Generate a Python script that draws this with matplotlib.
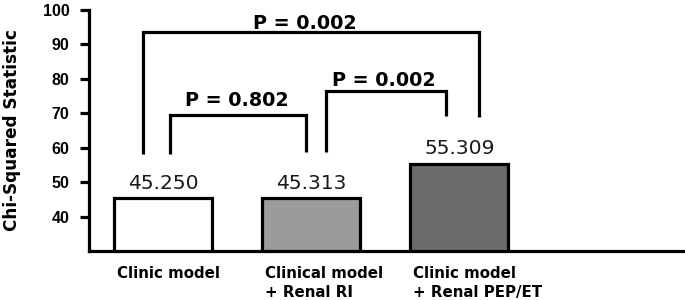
import numpy as np
import matplotlib
matplotlib.use("Agg")
import matplotlib.pyplot as plt

# data
categories = ["Clinic model", "Clinical model\n+ Renal RI", "Clinic model\n+ Renal PEP/ET"]
chi_squared = [45.250, 45.313, 55.309]
value_labels = ["45.250", "45.313", "55.309"]
bar_colors = ["white", "#9b9b9b", "#6a6a6a"]
p_labels = ["P = 0.802", "P = 0.002", "P = 0.002"]
y_ticks = [40, 50, 60, 70, 80, 90, 100]

# bracket layout: (left x, right x, top y, left leg bottom, right leg bottom, text x, text y)
brackets = [
    (0.047, 0.964, 69.4, 58.1, 58.7, 0.50, 72.0),
    (1.100, 1.910, 76.6, 58.7, 69.1, 1.49, 77.9),
    (-0.135, 2.130, 93.6, 58.1, 68.8, 0.96, 94.5),
]

lw = 2.3
fig = plt.figure(figsize=(6.85, 3.0), dpi=100)
ax = fig.add_axes([89 / 685, 49 / 300, 594 / 685, 241 / 300])

x = np.arange(len(categories))
w = 0.66
ax.bar(x, chi_squared, width=w, color=bar_colors, edgecolor="black", linewidth=lw)

for xi, v, lab in zip(x, chi_squared, value_labels):
    ax.annotate(lab, (xi, v), xytext=(0, 7), textcoords="offset points",
                ha="center", va="baseline", fontsize=14.6, color="#1a1a1a")

for (x1, x2, top, lb, rb, tx, ty), p in zip(brackets, p_labels):
    ax.plot([x1, x1, x2, x2], [lb, top, top, rb], color="black", lw=lw,
            clip_on=False, solid_capstyle="butt", solid_joinstyle="miter")
    ax.text(tx, ty, p, ha="center", va="baseline", fontsize=13.8,
            fontweight="bold", clip_on=False)

ax.set_xlim(-0.5, 3.51)
ax.set_ylim(30, 100)
ax.set_yticks(y_ticks)
ax.set_yticklabels([str(t) for t in y_ticks], fontsize=11.5, fontweight="bold",
                   family="Liberation Sans")
ax.tick_params(axis="y", length=6.5, width=lw, pad=7.5)

ax.set_xticks(x - w / 2 + 0.02)
ax.set_xticklabels(categories, ha="left", fontsize=10.8, fontweight="bold",
                   linespacing=1.3)
ax.tick_params(axis="x", length=0, pad=11)

ax.set_ylabel("Chi-Squared Statistic", fontsize=12.2, fontweight="bold", labelpad=16)

for s in ["top", "right"]:
    ax.spines[s].set_visible(False)
for s in ["left", "bottom"]:
    ax.spines[s].set_linewidth(lw)

fig.savefig("out.png", dpi=100)
